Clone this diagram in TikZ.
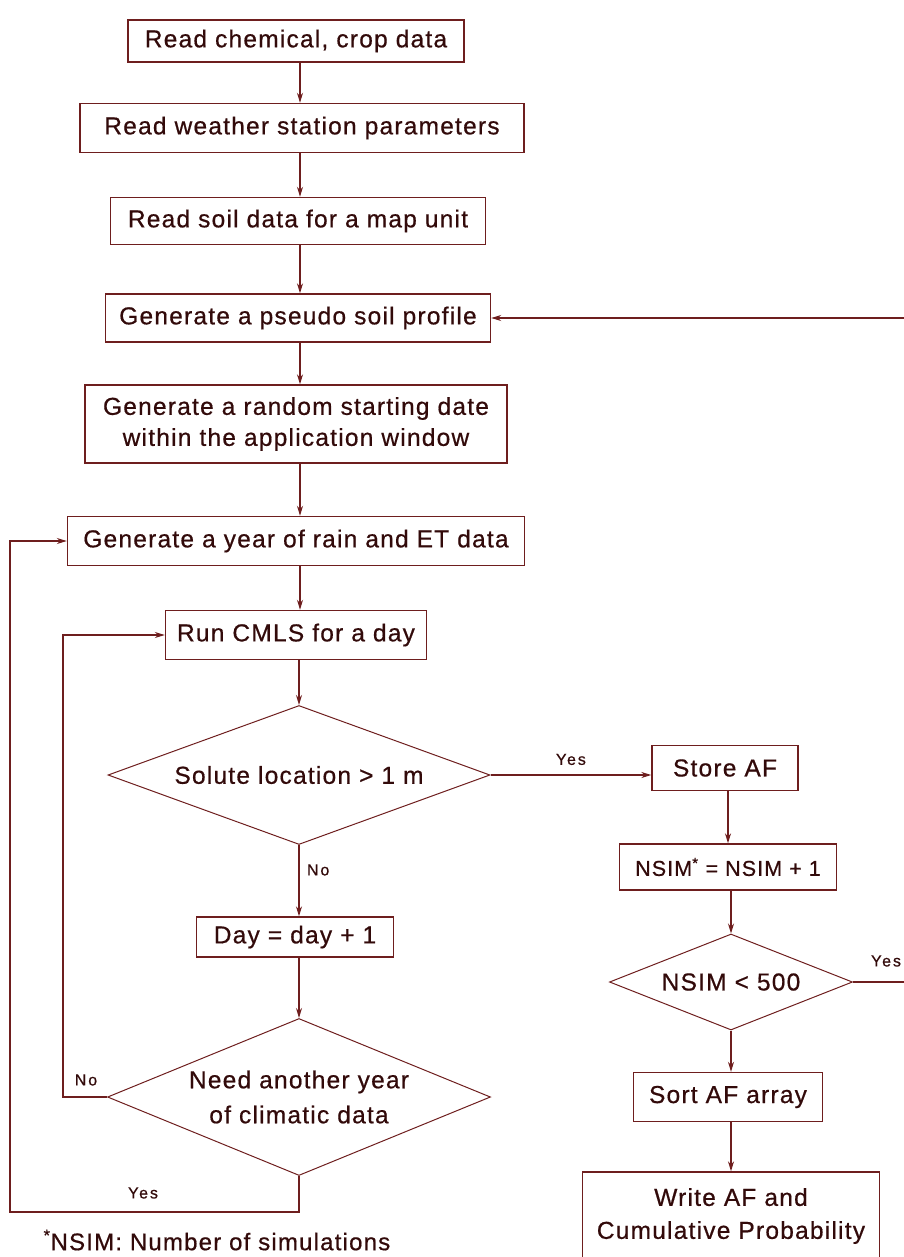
\documentclass[tikz,border=0pt]{standalone}
\usepackage{fontspec}
\setmainfont{Liberation Sans}[LetterSpace=5,FakeBold=0.6]
\newfontfamily\labfont{Liberation Sans}[LetterSpace=12,FakeBold=0.6]
\usetikzlibrary{shapes.geometric,arrows.meta}
\definecolor{ln}{RGB}{110,30,30}
\definecolor{tx}{RGB}{50,10,10}
\begin{document}
\begin{tikzpicture}[x=1pt,y=-1pt,
  box/.style={draw=ln,line width=1.4pt,rectangle,inner sep=0pt,text=tx,
    font=\fontsize{24.5}{31}\selectfont,align=center},
  dia/.style={draw=ln,line width=1pt,diamond,inner sep=0pt,text=tx,
    font=\fontsize{24.5}{35}\selectfont,align=center},
  arr/.style={draw=ln,line width=1.3pt,-{Stealth[length=10pt,width=6pt]}},
  lab/.style={text=tx,font=\labfont\fontsize{16}{18}\selectfont},
  note/.style={text=tx,font=\fontsize{24}{28}\selectfont}]
\useasboundingbox (0,0) rectangle (903,1257);
% main column
\node[box,minimum width=336,minimum height=42] (b1) at (296,41) {Read chemical, crop data};
\node[box,minimum width=444,minimum height=49] (b2) at (302,128) {Read weather station parameters};
\node[box,minimum width=375,minimum height=47] (b3) at (298,221) {Read soil data for a map unit};
\node[box,minimum width=385,minimum height=48] (b4) at (298,318) {Generate a pseudo soil profile};
\node[box,minimum width=422,minimum height=78] (b5) at (296,424) {Generate a random starting date\\within the application window};
\node[box,minimum width=457,minimum height=49] (b6) at (296,541) {Generate a year of rain and ET data};
\node[box,minimum width=261,minimum height=49] (b7) at (296,635) {Run CMLS for a day};
\node[dia,shape aspect=2.75,minimum width=382,minimum height=139] (d1) at (299,775) {Solute location > 1 m};
\node[box,minimum width=197,minimum height=40] (day) at (295,937) {Day = day + 1};
\node[dia,shape aspect=2.44,minimum width=383,minimum height=157] (d3) at (299,1097) {Need another year\\of climatic data};
% right column
\node[box,minimum width=146,minimum height=45] (store) at (725,768) {Store AF};
\node[box,minimum width=217,minimum height=46,font=\fontsize{21.5}{26}\selectfont] (nsim) at (728,867) {NSIM\textsuperscript{*} = NSIM + 1};
\node[dia,shape aspect=2.53,minimum width=243,minimum height=96] (d2) at (731,982) {NSIM < 500};
\node[box,minimum width=189,minimum height=49] (sort) at (728,1097) {Sort AF array};
\node[box,minimum width=297,minimum height=88,font=\fontsize{24.5}{33}\selectfont] (write) at (731,1216) {Write AF and\\Cumulative Probability};
% connectors main column
\draw[arr] (b1.south -| 300,0) -- (b2.north -| 300,0);
\draw[arr] (b2.south -| 300,0) -- (b3.north -| 300,0);
\draw[arr] (b3.south -| 300,0) -- (b4.north -| 300,0);
\draw[arr] (b4.south -| 300,0) -- (b5.north -| 300,0);
\draw[arr] (b5.south -| 300,0) -- (b6.north -| 300,0);
\draw[arr] (b6.south -| 300,0) -- (b7.north -| 300,0);
\draw[arr] (b7.south -| d1.north) -- (d1.north);
\draw[arr] (d1.south) -- (d1.south |- day.north) node[lab,pos=0.35,right=4pt] {No};
\draw[arr] (day.south -| d3.north) -- (d3.north);
% yes branch
\draw[arr] (d1.east) -- (d1.east -| store.west) node[lab,pos=0.5,above=6pt] {Yes};
\draw[arr] (store.south -| 728,0) -- (nsim.north -| 728,0);
\draw[arr] (nsim.south -| d2.north) -- (d2.north);
\draw[arr] (d2.south) -- (d2.south |- sort.north);
\draw[arr] (sort.south -| write.north) -- (write.north);
% loops
\draw[arr] (d2.east) -- ++(80,0) coordinate (rc) |- (b4.east);
\node[lab] (yes2) at (886,961) {Yes};
\draw[arr] (d3.west) -- ++(-44,0) coordinate (nc) |- (b7.west);
\node[lab] (no2) at (86,1080) {No};
\draw[arr] (d3.south) -- ++(0,36) coordinate (yc) -- (yc -| 10,0) |- (b6.west);
\node[lab] (yes3) at (143,1193) {Yes};
% footnote
\node[note,anchor=west] (fn) at (40,1240) {\textsuperscript{*}NSIM: Number of simulations};
\end{tikzpicture}
\end{document}
